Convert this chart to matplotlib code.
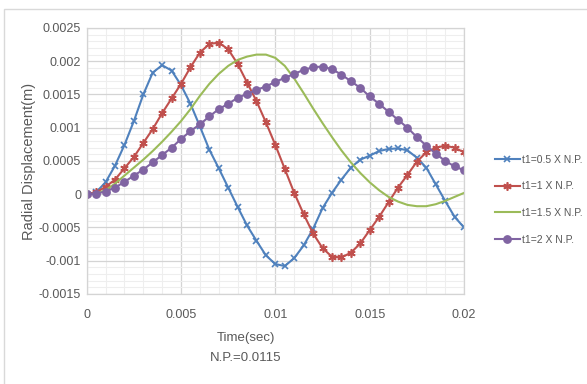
import matplotlib
matplotlib.use('Agg')
import matplotlib.pyplot as plt
from matplotlib.patches import Rectangle
from matplotlib.ticker import MultipleLocator
import numpy as np

plt.rcParams['font.family'] = ['Liberation Sans', 'DejaVu Sans']

# time samples every 0.0005 s
time = np.linspace(0, 0.02, 41)

disp_05 = [0, 0.00003, 0.00018, 0.00043, 0.00074, 0.0011, 0.0015, 0.00183, 0.00194, 0.00186,
           0.00164, 0.00136, 0.00102, 0.00067, 0.00039, 0.0001, -0.00019, -0.00047, -0.0007, -0.00092,
           -0.00105, -0.00108, -0.00096, -0.00077, -0.00052, -0.00021, 0.00002, 0.00022, 0.0004, 0.00052,
           0.00058, 0.00065, 0.00068, 0.00069, 0.00066, 0.00055, 0.0004, 0.00015, -0.0001, -0.00034,
           -0.0005]
disp_10 = [0, 0.00003, 0.00011, 0.00022, 0.00039, 0.00056, 0.00077, 0.00098, 0.00122, 0.00144,
           0.00166, 0.00191, 0.00213, 0.00226, 0.00228, 0.00218, 0.00196, 0.00168, 0.0014, 0.00108,
           0.00074, 0.00038, 0.00002, -0.0003, -0.00059, -0.00081, -0.00094, -0.00095, -0.00088, -0.00074,
           -0.00054, -0.00034, -0.00012, 0.0001, 0.00029, 0.00049, 0.00063, 0.0007, 0.00073, 0.0007,
           0.00063]
disp_15 = [0, 0.00001, 0.00006, 0.00016, 0.00028, 0.0004, 0.00052, 0.00065, 0.00079, 0.00094,
           0.0011, 0.00128, 0.00148, 0.00166, 0.00181, 0.00193, 0.00202, 0.00207, 0.0021, 0.0021,
           0.00205, 0.00193, 0.00174, 0.00152, 0.00129, 0.00107, 0.00086, 0.00066, 0.00048, 0.00032,
           0.00018, 0.00006, -0.00004, -0.00011, -0.00016, -0.00018, -0.00018, -0.00015, -0.0001, -0.00004,
           0.00002]
disp_20 = [0, 0.00001, 0.00004, 0.0001, 0.000185, 0.00028, 0.00037, 0.00048, 0.00059, 0.0007,
           0.00083, 0.00095, 0.00105, 0.00117, 0.00128, 0.00136, 0.00145, 0.00151, 0.00157, 0.00162,
           0.00169, 0.00175, 0.00181, 0.00187, 0.00191, 0.00192, 0.00188, 0.0018, 0.0017, 0.0016,
           0.00147, 0.00136, 0.00124, 0.00112, 0.001, 0.00086, 0.00073, 0.00061, 0.0005, 0.00042,
           0.00036]

x_ticks = [0, 0.005, 0.01, 0.015, 0.02]
x_labels = ['0', '0.005', '0.01', '0.015', '0.02']
y_ticks = [-0.0015, -0.001, -0.0005, 0, 0.0005, 0.001, 0.0015, 0.002, 0.0025]
y_labels = ['-0.0015', '-0.001', '-0.0005', '0', '0.0005', '0.001', '0.0015', '0.002', '0.0025']

text_col = '#595959'

fig = plt.figure(figsize=(5.87, 3.84), dpi=100)
ax = fig.add_axes([0.1477, 0.2344, 0.6428, 0.6927])

# chart frame
fig.patches.append(Rectangle((4 / 587, -0.1), 2, 1.1 - 9 / 384, transform=fig.transFigure,
                             fill=False, edgecolor='#d9d9d9', linewidth=1))

ax.plot(time, disp_05, color='#4f81bd', lw=1.5, marker='x', ms=5, mew=1.2, label='t1=0.5 X N.P.')
ax.plot(time, disp_10, color='#c0504d', lw=1.5, marker=(6, 2, 0), ms=6, mew=1.2, label='t1=1 X N.P.')
ax.plot(time, disp_15, color='#9bbb59', lw=1.5, label='t1=1.5 X N.P.')
ax.plot(time, disp_20, color='#8064a2', lw=1.5, marker='o', ms=5.3, mec='#8064a2', label='t1=2 X N.P.')

ax.set_xlim(0, 0.02)
ax.set_ylim(-0.0015, 0.0025)
ax.set_xticks(x_ticks)
ax.set_xticklabels(x_labels)
ax.set_yticks(y_ticks)
ax.set_yticklabels(y_labels)
ax.xaxis.set_minor_locator(MultipleLocator(0.001))
ax.yaxis.set_minor_locator(MultipleLocator(0.0001))
ax.grid(True, which='major', color='#d4d4d4', lw=0.9)
ax.grid(True, which='minor', color='#eeeeee', lw=0.8)
ax.set_axisbelow(True)
for s in ax.spines.values():
    s.set_color('#d4d4d4')
    s.set_linewidth(0.9)
ax.tick_params(which='both', length=0)
ax.tick_params(axis='x', pad=11, labelsize=9, labelcolor=text_col)
ax.tick_params(axis='y', pad=4, labelsize=9, labelcolor=text_col)

fig.text(29 / 587, 1 - 161 / 384, 'Radial Displacement(m)', rotation=90, ha='center', va='center',
         fontsize=10.5, color=text_col)
fig.text(246 / 587, 1 - 338 / 384, 'Time(sec)', ha='center', va='center', fontsize=9.5, color=text_col)
fig.text(246 / 587, 1 - 358 / 384, 'N.P.=0.0115', ha='center', va='center', fontsize=9.5, color=text_col)

ax.legend(loc='center left', bbox_to_anchor=(1.082, 0.355), frameon=False, fontsize=7.5,
          borderpad=0, borderaxespad=0, handlelength=2.4, handletextpad=0.2,
          labelspacing=1.6, labelcolor=text_col)

plt.savefig('out.png', dpi=100)
